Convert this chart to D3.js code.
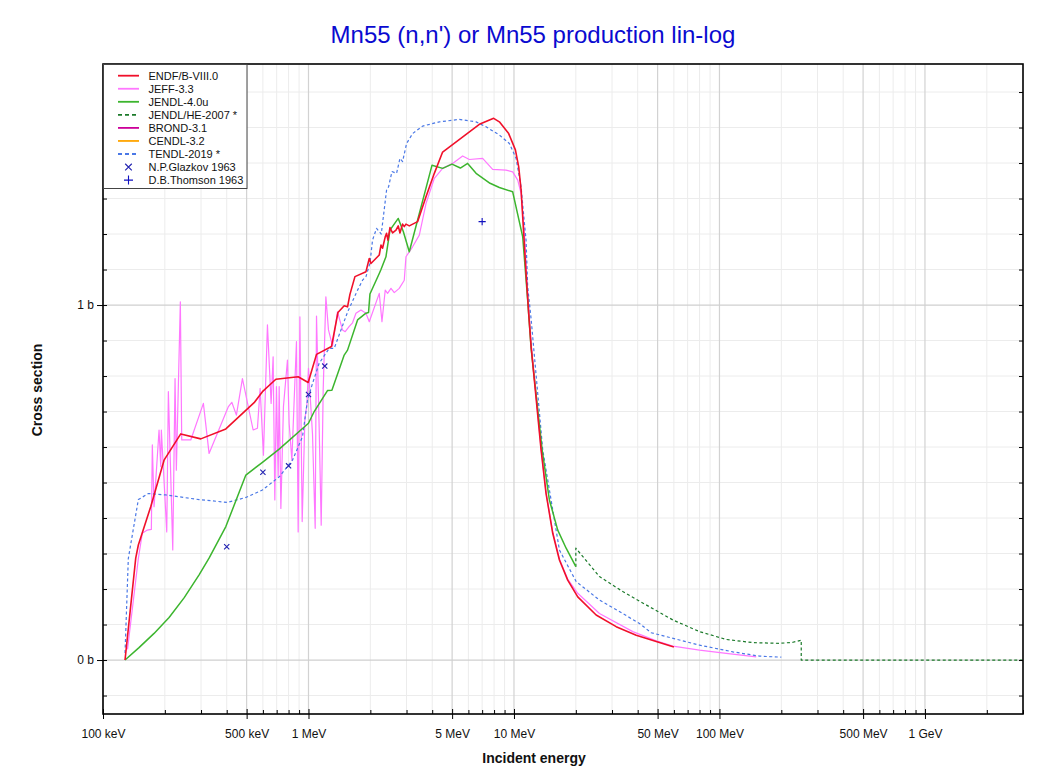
<!DOCTYPE html>
<html><head><meta charset="utf-8">
<script src="https://cdn.jsdelivr.net/npm/d3@7"></script>
<style>
body{margin:0;background:#fff;}
svg{display:block;font-family:"Liberation Sans",Arial,Helvetica,sans-serif;}
</style>
</head><body>
<svg id="c" width="1049" height="771"></svg>
<script>
// ---- data (energies in MeV, cross sections in barns) ----
const endfE = [0.128,0.1443,0.1486,0.1707,0.1982,0.239,0.2991,0.3961,0.5438,0.5969,0.6937,0.8909,0.9966,1.094,1.294,1.391,1.492,1.549,1.591,1.683,1.904,1.976,2.013,2.21,2.253,2.293,2.363,2.399,2.436,2.492,2.566,2.666,2.734,2.787,2.87,2.925,2.981,3.094,3.396,3.731,4.096,4.495,6.784,7.965,8.49,9.423,10.16,10.54,10.83,11.15,11.45,11.79,12.12,13.55,14.33,15.44,16.64,18.26,20.43,25.11,31.43,39.34,49.23,60];
const endfS = [0,0.287,0.324,0.432,0.563,0.637,0.623,0.651,0.725,0.756,0.791,0.798,0.782,0.861,0.883,0.979,0.998,0.995,1.030,1.080,1.094,1.131,1.117,1.141,1.169,1.160,1.192,1.202,1.183,1.218,1.203,1.211,1.223,1.203,1.228,1.221,1.228,1.223,1.235,1.305,1.371,1.431,1.509,1.526,1.516,1.483,1.437,1.390,1.324,1.202,1.089,0.977,0.883,0.592,0.469,0.357,0.282,0.225,0.178,0.127,0.094,0.070,0.052,0.037];

const jeffE = [0.1316,0.1486,0.1553,0.1643,0.1719,0.1738,0.1772,0.1874,0.191,0.1923,0.2043,0.208,0.2137,0.2185,0.2242,0.2275,0.2379,0.2416,0.2674,0.308,0.3282,0.4077,0.4235,0.4459,0.477,0.5378,0.5644,0.5816,0.6036,0.6313,0.6579,0.6729,0.6858,0.6983,0.7119,0.72,0.7338,0.7554,0.7901,0.8052,0.8301,0.8517,0.8741,0.8909,0.9081,0.9318,0.9605,0.9822,1.0,1.046,1.078,1.094,1.127,1.153,1.179,1.215,1.251,1.309,1.384,1.464,1.509,1.579,1.638,1.702,1.8,1.904,1.976,2.21,2.278,2.363,2.426,2.52,2.615,2.765,2.925,2.981,3.211,3.462,3.731,4.096,4.495,5.029,5.626,6.065,7.04,7.874,9.151,9.856,10.43,10.83,11.24,11.62,12.12,13.55,14.33,15.44,16.64,18.26,20.43,26.06,37.86,49.23,59.3,79.98,107.9,151];
const jeffS = [0.03,0.286,0.357,0.366,0.368,0.606,0.432,0.648,0.545,0.648,0.361,0.756,0.516,0.310,0.793,0.535,1.009,0.620,0.620,0.723,0.582,0.714,0.726,0.690,0.793,0.648,0.653,0.765,0.577,0.944,0.723,0.854,0.451,0.770,0.517,0.770,0.427,0.714,0.845,0.667,0.563,0.732,0.897,0.361,0.967,0.390,0.680,0.718,0.822,0.636,0.371,0.969,0.656,0.380,0.761,1.023,0.930,0.885,0.981,0.930,0.925,0.940,0.950,0.977,0.986,0.977,0.953,1.033,0.953,1.042,1.033,1.047,1.035,1.047,1.070,1.136,1.164,1.197,1.286,1.357,1.385,1.399,1.420,1.410,1.413,1.382,1.380,1.375,1.352,1.314,1.202,1.05,0.89,0.595,0.47,0.36,0.285,0.228,0.188,0.131,0.080,0.054,0.039,0.028,0.019,0.009];

const jendlE = [0.128,0.1497,0.1772,0.2097,0.248,0.2935,0.3282,0.3961,0.4956,0.5969,0.72,1.0,1.066,1.237,1.30,1.492,1.549,1.733,1.904,1.96,1.991,2.21,2.253,2.382,2.492,2.734,2.893,3.094,3.992,4.495,4.994,5.483,5.95,6.539,7.649,8.49,9.856,11.03,11.66,12.12,13.71,14.87,16.33,17.94,20];
const jendlS = [0,0.035,0.075,0.12,0.175,0.24,0.287,0.376,0.521,0.557,0.594,0.667,0.700,0.759,0.760,0.859,0.873,0.958,0.977,0.979,1.031,1.089,1.10,1.136,1.211,1.244,1.207,1.150,1.394,1.385,1.397,1.386,1.399,1.371,1.343,1.331,1.319,1.192,1.014,0.877,0.592,0.451,0.366,0.315,0.263];

const jendlHeE = [20,20,26.06,33.84,45.64,59.3,79.98,107.9,145.5,196.3,227.8,250,250,3000];
const jendlHeS = [0.263,0.315,0.235,0.193,0.150,0.113,0.080,0.058,0.049,0.047,0.050,0.056,0,0];

const brondE = [];
const brondS = [];
const cendlE = [];
const cendlS = [];

const tendlE = [0.128,0.1328,0.1486,0.1662,0.202,0.2935,0.4033,0.4956,0.5969,0.72,0.8358,0.935,0.989,1.046,1.127,1.261,1.334,1.549,1.733,1.833,1.904,1.991,2.05,2.144,2.21,2.26,2.399,2.453,2.548,2.683,2.787,2.87,3.002,3.211,3.592,4.332,5.42,6.539,7.313,8.49,9.497,10.24,10.83,11.24,11.45,11.66,12.12,13.8,16.64,20.07,26.06,33.84,40.81,46.54,55.07,79.98,116.2,156.8,200];
const tendlS = [0.02,0.286,0.452,0.469,0.465,0.452,0.444,0.458,0.479,0.516,0.563,0.629,0.732,0.779,0.836,0.878,0.878,0.98,1.042,1.07,1.080,1.118,1.183,1.216,1.207,1.20,1.324,1.333,1.376,1.371,1.413,1.404,1.455,1.483,1.504,1.516,1.523,1.516,1.502,1.479,1.455,1.413,1.333,1.230,1.183,1.052,0.96,0.592,0.310,0.221,0.169,0.131,0.103,0.077,0.066,0.042,0.023,0.011,0.008];

const glazkovE = [0.4,0.6,0.8,1.0,1.2];
const glazkovS = [0.319,0.529,0.547,0.748,0.828];
const thomsonE = [7.0];
const thomsonS = [1.235];

const xTickValues = [0.1,0.5,1,5,10,50,100,500,1000];
const xTickLabels = ["100 keV","500 keV","1 MeV","5 MeV","10 MeV","50 MeV","100 MeV","500 MeV","1 GeV"];
const yTickValues = [0,1];
const yTickLabels = ["0 b","1 b"];

const legendNames = ["ENDF/B-VIII.0","JEFF-3.3","JENDL-4.0u","JENDL/HE-2007 *","BROND-3.1","CENDL-3.2","TENDL-2019 *","N.P.Glazkov 1963","D.B.Thomson 1963"];

// ---- layout ----
const L = 103, R = 1023, T = 64, B = 714;
const svg = d3.select("#c");
const x = d3.scaleLog().domain([0.1, 3000]).range([L, R]);
const y = d3.scaleLinear().domain([-0.152, 1.679]).range([B, T]);

// minor values
const xMinor = [];
for (let p = -1; p <= 3; p++) for (let k = 1; k <= 9; k++) {
  const v = k * Math.pow(10, p);
  if (v >= 0.1 && v <= 3000 && !xTickValues.some(t => Math.abs(t - v) / v < 1e-9)) xMinor.push(v);
}
const yMinor = d3.range(-1, 17).map(i => i / 10).filter(v => !yTickValues.includes(v));

// gridlines
const grid = svg.append("g");
grid.selectAll(".gxm").data(xMinor).enter().append("line")
  .attr("x1", d => x(d)).attr("x2", d => x(d)).attr("y1", T).attr("y2", B)
  .attr("stroke", "#ececec").attr("stroke-width", 1);
grid.selectAll(".gym").data(yMinor).enter().append("line")
  .attr("x1", L).attr("x2", R).attr("y1", d => y(d)).attr("y2", d => y(d))
  .attr("stroke", "#ececec").attr("stroke-width", 1);
grid.selectAll(".gxM").data(xTickValues).enter().append("line")
  .attr("x1", d => x(d)).attr("x2", d => x(d)).attr("y1", T).attr("y2", B)
  .attr("stroke", "#d2d2d2").attr("stroke-width", 1.2);
grid.selectAll(".gyM").data(yTickValues).enter().append("line")
  .attr("x1", L).attr("x2", R).attr("y1", d => y(d)).attr("y2", d => y(d))
  .attr("stroke", "#cfcfcf").attr("stroke-width", 1.2);

// clip
svg.append("defs").append("clipPath").attr("id", "clip")
  .append("rect").attr("x", L).attr("y", T).attr("width", R - L).attr("height", B - T);
const plot = svg.append("g").attr("clip-path", "url(#clip)");

const line = d3.line().x(d => x(d[0])).y(d => y(d[1]));
const zip = (a, b) => a.map((v, i) => [v, b[i]]);

const series = [
  {E: jeffE, S: jeffS, color: "#ff77ff", w: 1.2, dash: null},
  {E: tendlE, S: tendlS, color: "#4a78e6", w: 1.2, dash: "3,2.5"},
  {E: jendlHeE, S: jendlHeS, color: "#1b7a2a", w: 1.2, dash: "3,2.5"},
  {E: brondE, S: brondS, color: "#cc0099", w: 1.6, dash: null},
  {E: cendlE, S: cendlS, color: "#ffa500", w: 1.6, dash: null},
  {E: jendlE, S: jendlS, color: "#3cb52e", w: 1.5, dash: null},
  {E: endfE, S: endfS, color: "#f0102a", w: 1.6, dash: null}
];
series.forEach(s => {
  if (!s.E.length) return;
  plot.append("path").datum(zip(s.E, s.S)).attr("d", line)
    .attr("fill", "none").attr("stroke", s.color).attr("stroke-width", s.w)
    .attr("stroke-dasharray", s.dash).attr("stroke-linejoin", "round");
});

// markers
const cross = (g, cx, cy, r, color) => g.append("path")
  .attr("d", `M${cx-r},${cy-r}L${cx+r},${cy+r}M${cx-r},${cy+r}L${cx+r},${cy-r}`)
  .attr("stroke", color).attr("stroke-width", 1.1).attr("fill", "none");
const plus = (g, cx, cy, r, color) => g.append("path")
  .attr("d", `M${cx-r},${cy}L${cx+r},${cy}M${cx},${cy-r}L${cx},${cy+r}`)
  .attr("stroke", color).attr("stroke-width", 1.1).attr("fill", "none");
glazkovE.forEach((e, i) => cross(plot, x(e), y(glazkovS[i]), 2.6, "#2020b0"));
thomsonE.forEach((e, i) => plus(plot, x(e), y(thomsonS[i]), 3.6, "#1010c0"));

// axes
const axB = d3.axisBottom(x).tickValues(xTickValues).tickFormat((d, i) => xTickLabels[i]).tickSize(5).tickPadding(10);
const gB = svg.append("g").attr("transform", `translate(0,${B})`).call(axB);
gB.select(".domain").remove();
gB.selectAll(".tick line").attr("y1", -5).attr("y2", 5).attr("stroke", "#000");
gB.selectAll("text").attr("font-size", 12).attr("fill", "#111").attr("font-family", "Liberation Sans, Arial, sans-serif");
const gBm = svg.append("g").attr("transform", `translate(0,${B})`)
  .call(d3.axisBottom(x).tickValues(xMinor).tickFormat("").tickSizeInner(-4).tickSizeOuter(0));
gBm.select(".domain").remove();

const axLft = d3.axisLeft(y).tickValues(yTickValues).tickFormat((d, i) => yTickLabels[i]).tickSize(6).tickPadding(3);
const gL = svg.append("g").attr("transform", `translate(${L},0)`).call(axLft);
gL.select(".domain").remove();
gL.selectAll(".tick line").attr("x1", -6).attr("x2", 4).attr("stroke", "#000");
gL.selectAll("text").attr("font-size", 12).attr("fill", "#111").attr("font-family", "Liberation Sans, Arial, sans-serif");
const gLm = svg.append("g").attr("transform", `translate(${L},0)`)
  .call(d3.axisLeft(y).tickValues(yMinor).tickFormat("").tickSizeInner(-4).tickSizeOuter(0));
gLm.select(".domain").remove();

const gRm = svg.append("g").attr("transform", `translate(${R},0)`)
  .call(d3.axisRight(y).tickValues(yMinor.concat(yTickValues)).tickFormat("").tickSizeInner(-4).tickSizeOuter(0));
gRm.select(".domain").remove();

// frame
svg.append("rect").attr("x", L).attr("y", T).attr("width", R - L).attr("height", B - T)
  .attr("fill", "none").attr("stroke", "#000").attr("stroke-width", 1.6);

// legend
const lg = svg.append("g");
lg.append("rect").attr("x", L + 0.5).attr("y", T + 0.5).attr("width", 143.5).attr("height", 124)
  .attr("fill", "#fff").attr("stroke", "#444").attr("stroke-width", 1);
const legStyles = [
  {c: "#f0102a", d: null, t: "l"}, {c: "#ff77ff", d: null, t: "l"}, {c: "#3cb52e", d: null, t: "l"},
  {c: "#1b7a2a", d: "4,3", t: "l"}, {c: "#cc0099", d: null, t: "l"}, {c: "#ffa500", d: null, t: "l"},
  {c: "#4a78e6", d: "4,3", t: "l"}, {c: "#2020b0", d: null, t: "x"}, {c: "#1010c0", d: null, t: "p"}
];
legendNames.forEach((name, i) => {
  const yy = 75.7 + i * 13.05;
  const st = legStyles[i];
  if (st.t === "l") {
    lg.append("line").attr("x1", 118).attr("x2", 139).attr("y1", yy).attr("y2", yy)
      .attr("stroke", st.c).attr("stroke-width", 1.8).attr("stroke-dasharray", st.d);
  } else if (st.t === "x") {
    cross(lg, 128.5, yy, 3.3, st.c);
  } else {
    plus(lg, 128.5, yy, 4.5, st.c);
  }
  lg.append("text").attr("x", 148.5).attr("y", yy + 3.8).attr("font-size", 11).attr("fill", "#111").text(name);
});

// title and axis labels
svg.append("text").attr("x", 533).attr("y", 43).attr("text-anchor", "middle")
  .attr("font-size", 24).attr("fill", "#0a0ad0").text("Mn55 (n,n') or Mn55 production lin-log");
svg.append("text").attr("x", 534).attr("y", 763).attr("text-anchor", "middle")
  .attr("font-size", 14).attr("font-weight", "bold").attr("fill", "#111").text("Incident energy");
svg.append("text").attr("transform", "translate(42,390) rotate(-90)").attr("text-anchor", "middle")
  .attr("font-size", 14).attr("font-weight", "bold").attr("fill", "#111").text("Cross section");
</script>
</body></html>
